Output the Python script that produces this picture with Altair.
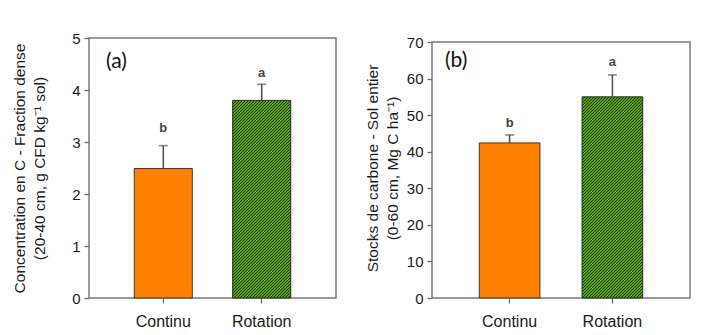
import altair as alt
import pandas as pd

# ---------------- data ----------------
categories = ["Continu", "Rotation"]

conc_mean = [2.49, 3.80]
conc_upper = [2.93, 4.11]
conc_letters = ["b", "a"]
conc_letter_y = [3.27, 4.33]
conc_ticks = [0, 1, 2, 3, 4, 5]

stock_mean = [42.4, 55.0]
stock_upper = [44.6, 61.0]
stock_letters = ["b", "a"]
stock_letter_y = [47.9, 64.5]
stock_ticks = [0, 10, 20, 30, 40, 50, 60, 70]

ORANGE = "#FF7F00"
GREEN_LIGHT = "#57a010"
GREEN_DARK = "#1f3a05"
FRAME = "#7a7a7a"
FONT = "Liberation Sans"
PANEL_H = 260


def hatch_gradient(bar_w, bar_h, period=3.0, dark_frac=1 / 3):
    """Diagonal '///' hatch built as a striped linear gradient (bbox units).
    Stripe spacing is exactly `period` px measured along x."""
    r = bar_h / bar_w
    n = int((bar_w + bar_h) // period) + 2
    L = n * period
    k = L / (bar_w * (1 + r * r))
    stops = []
    for i in range(n):
        a = i / n
        b = (i + dark_frac) / n
        c = (i + 1) / n
        stops += [
            {"offset": a, "color": GREEN_DARK},
            {"offset": b, "color": GREEN_DARK},
            {"offset": b, "color": GREEN_LIGHT},
            {"offset": c, "color": GREEN_LIGHT},
        ]
    return {"gradient": "linear", "x1": 0, "y1": 0, "x2": k, "y2": k * r,
            "stops": stops}


def panel(means, uppers, letters, letter_y, ticks, ymax, width, frame_h,
          title_lines, title_pad, tag, tag_x, tag_y, p_inner=0.41, p_outer=0.46):
    height = PANEL_H
    # the axis top (ymax) sits frame_h px above the baseline
    dom_top = ymax * height / frame_h
    df = pd.DataFrame({"cat": categories, "mean": means, "upper": uppers,
                       "letter": letters, "ly": letter_y})
    xs = alt.X("cat:N", sort=categories, title=None,
               scale=alt.Scale(paddingInner=p_inner, paddingOuter=p_outer),
               axis=alt.Axis(labelAngle=0, labelFontSize=16, labelPadding=10,
                             ticks=True, domain=False))
    ysc = alt.Scale(domain=[0, dom_top], nice=False, zero=True)
    yax = alt.Axis(values=ticks, title=title_lines, titlePadding=title_pad,
                   grid=False, domain=False, labelFontSize=15, labelPadding=4,
                   labelOverlap=False,
                   titleFontSize=15.5, titleLineHeight=20,
                   titleFontWeight="normal")

    def Y(field):
        return alt.Y(field, scale=ysc, axis=yax)

    base = alt.Chart(df).encode(x=xs)

    # bar geometry (for the hatch pattern's angle / spacing)
    step = width / (len(categories) - p_inner + 2 * p_outer)
    bw = step * (1 - p_inner)
    rot_h = means[1] / dom_top * height

    frame = alt.Chart(pd.DataFrame({"top": [ymax]})).mark_rect(
        fillOpacity=0, stroke=FRAME, strokeWidth=1.5
    ).encode(x=alt.value(0), x2=alt.value(width),
             y=Y("top:Q"), y2=alt.datum(0))
    bar_c = base.transform_filter(alt.datum.cat == categories[0]).mark_bar(
        fill=ORANGE, stroke="#3a3a3a", strokeWidth=1
    ).encode(y=Y("mean:Q"))
    bar_r = base.transform_filter(alt.datum.cat == categories[1]).mark_bar(
        fill=hatch_gradient(bw, rot_h), stroke="#2a2a2a", strokeWidth=1
    ).encode(y=Y("mean:Q"))
    err = base.mark_rule(color="#555555", strokeWidth=1.6).encode(
        y=Y("mean:Q"), y2="upper:Q")
    cap = base.mark_tick(color="#555555", size=9, thickness=1.6).encode(
        y=Y("upper:Q"))
    lett = base.mark_text(font=FONT, fontSize=13, fontWeight="bold",
                          color="#444444", baseline="middle").encode(
        y=Y("ly:Q"), text="letter:N")
    tag_chart = alt.Chart(pd.DataFrame({"t": [tag]})).mark_text(
        font="Lato", fontSize=21, color="#111111", align="left",
        baseline="middle").encode(x=alt.value(tag_x), y=alt.value(tag_y),
                                  text="t:N")
    return alt.layer(frame, bar_c, bar_r, err, cap, lett, tag_chart).properties(
        width=width, height=height, view=alt.ViewBackground(strokeOpacity=0))


left = panel(conc_mean, conc_upper, conc_letters, conc_letter_y, conc_ticks, 5,
             247, 260,
             ["Concentration en C - Fraction dense", "(20-40 cm, g CFD kg\u207b\u00b9 sol)"],
             24, "(a)", 17, 24)
right = panel(stock_mean, stock_upper, stock_letters, stock_letter_y, stock_ticks, 70,
              258, 256,
              ["Stocks de carbone - Sol entier", "(0-60 cm, Mg C ha\u207b\u00b9)"],
              6, "(b)", 13, 23)

chart = alt.hconcat(left, right, spacing=96, bounds="flush").properties(
    padding={"left": 4, "top": 23, "right": 5, "bottom": 5}
).configure_axis(
    labelFont=FONT, titleFont=FONT, labelColor="#1a1a1a", titleColor="#1a1a1a",
    tickColor="#6a6a6a", tickSize=5, tickWidth=1.3
)

chart.save("out.html", embed_options={"renderer": "svg", "actions": False})
